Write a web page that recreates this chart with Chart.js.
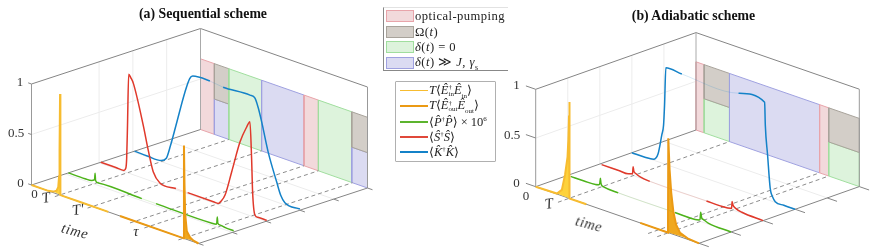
<!DOCTYPE html>
<html><head><meta charset="utf-8">
<script src="https://cdn.jsdelivr.net/npm/chart.js@4"></script>
<style>
html,body{margin:0;padding:0;background:#fff;width:872px;height:249px;overflow:hidden}
canvas{position:absolute;top:0}
.lb{position:absolute;transform:translate(-50%,-50%);font-family:"Liberation Serif",serif;color:#333;white-space:nowrap;line-height:1}
.title{font-weight:bold;font-size:13.8px;color:#111}
.tick{font-size:13px}
.it{font-style:italic;font-size:15px}
.tm{font-style:italic;font-size:14.5px;letter-spacing:.6px}
#wl{position:absolute;left:383px;top:7px;width:125px;height:64px;border-left:1px solid #888;border-bottom:1px solid #888;border-top:1px solid #e2e2e2;box-sizing:border-box}
.sw{position:absolute;left:386px;width:27.5px;height:12.5px;box-sizing:border-box;border-width:1px;border-style:solid}
.wt{position:absolute;left:415px;font:12.6px "Liberation Serif",serif;color:#222;transform:translateY(-50%);white-space:nowrap;letter-spacing:.45px}
#sl{position:absolute;left:395px;top:81px;width:101px;height:81px;border:1.2px solid #b0b0b0;border-radius:1px;box-sizing:border-box}
.ll{position:absolute;left:400px;width:28px}
.st{position:absolute;left:429px;font:12.5px "Liberation Serif","DejaVu Serif",serif;color:#222;transform:translateY(-50%);white-space:nowrap}
.ss{display:inline-flex;flex-direction:column;font-size:7px;line-height:6.5px;vertical-align:middle;font-style:normal}
</style></head><body>
<canvas id="ca" width="385" height="249" style="left:0;width:385px;height:249px"></canvas>
<canvas id="cb" width="372" height="249" style="left:500px;width:372px;height:249px"></canvas>
<div id="wl"></div>
<script>
// ---- values: time (fraction of axis), value ----
const wallEdgesA=[0,.083,.17,.366,.62,.706,.906,1];
const wallLowerA=['pump','det','zero','det','pump','zero','det'];
const wallUpperA=['pump','omega','zero','det','pump','zero','omega'];
const wallEdgesB=[0,.05,.205,.757,.813,1];
const wallLowerB=['pump','zero','det','pump','zero'];
const wallUpperB=['pump','omega','det','pump','omega'];
const wallHeight=.7, wallSplit=.35;
const dashTimesA=[.17,.366,.62,.706,.91];
const dashTimesB=[.205,.757,.813];
const depthsA=[0,.218,.41,.61];
const depthsB=[0,.2,.4,.6];
const depthTicks=[0,.2,.4,.6,.8,1];

const yellowTimeA=[0,.10,.13,.15,.16,.165,.168,.171,.173,.30,.46];
const yellowValA =[0,0,.01,.03,.07,.18,.45,1,0,0,0];
const orangeTimeA=[.53,.90,.911,.913,.916,.92,.93,.95,.97,1];
const orangeValA =[0,0,0,.92,.55,.25,.08,.03,.01,0];
const greenTimeA=[0,.10,.14,.155,.158,.16,.163,.18,.44,.525,.86,.885,.889,.892,.895,.91,.94,.99];
const greenValA =[0,0,.005,.02,.04,.09,.02,.005,0,0,0,.005,.02,.08,.02,.01,.003,0];
const redTimeA=[0,.09,.139,.15,.155,.16,.167,.18,.195,.254,.284,.314,.354,.45,.52,.674,.704,.72,.744,.784,.834,.874,.893,.903,.909,.923,.94,.994];
const redValA =[0,0,0,.03,.13,.46,.967,.94,.894,.515,.285,.088,0,0,0,0,0,.03,.106,.36,.686,.857,.918,.564,.235,.012,0,0];
const blueTimeA=[0,.08,.16,.19,.215,.248,.30,.33,.348,.451,.53,.691,.721,.74,.761,.80,.851,.875,.90,.99];
const blueValA =[0,-.005,0,.04,.18,.40,.75,.91,.945,.955,.94,.955,.943,.86,.73,.454,.187,.07,.01,0];

const yellowTimeB=[0,.13,.16,.18,.195,.2,.204,.206,.208,.31];
const yellowValB =[0,.005,.06,.23,.42,.6,.85,.99,0,0];
const orangeTimeB=[.64,.80,.81,.812,.82,.83,.843,.86,.884,.93,1];
const orangeValB =[0,0,0,.97,.65,.42,.233,.11,.04,.01,0];
const greenTimeB=[.018,.10,.17,.19,.196,.2,.203,.207,.22,.309,.656,.78,.805,.81,.814,.82,.83,.86,1];
const greenValB =[0,0,.005,.015,.03,.086,.04,.02,.01,0,0,0,.01,.02,.095,.04,.03,.01,0];
const redTimeB=[.011,.12,.173,.19,.2,.204,.208,.22,.25,.306,.653,.75,.80,.807,.81,.816,.83,.87,1];
const redValB =[0,0,0,.01,.015,.09,.05,.03,.01,0,0,0,.01,.015,.085,.05,.03,.01,0];
const blueTimeB=[0,.08,.132,.16,.183,.194,.2,.208,.306,.653,.813,.817,.831,.847,.862,.878,.93,1];
const blueValB =[0,0,.01,.08,.287,.397,.6,.994,.985,.99,.99,.76,.459,.127,.045,.007,0,0];

const wallLabels=['optical-pumping','Ω(<i>t</i>)','<i>δ</i>(<i>t</i>) = 0','<i>δ</i>(<i>t</i>) ≫ <i>J</i>, <i>γ</i><sub style="font-size:8px">s</sub>'];
const E='<i>E&#770;</i>',P='<i>P&#770;</i>',S='<i>S&#770;</i>',K='<i>K&#770;</i>';
const seriesLabels=[
 `<i>T</i>⟨${E}<span class="ss"><span>†</span><span>in</span></span>${E}<sub style="font-size:7px">in</sub>⟩`,
 `<i>T</i>⟨${E}<span class="ss"><span>†</span><span>out</span></span>${E}<sub style="font-size:7px">out</sub>⟩`,
 `⟨${P}<sup style="font-size:7px">†</sup>${P}⟩ × 10<sup style="font-size:7px">6</sup>`,
 `⟨${S}<sup style="font-size:7px">†</sup>${S}⟩`,
 `⟨${K}<sup style="font-size:7px">†</sup>${K}⟩`];

// ---- styles ----
const wallFill={pump:'#F2D9DB',omega:'#D3CEC8',zero:'#DDF3DC',det:'#DBDBF2'};
const wallLine={pump:'#E8A4AA',omega:'#A8A39B',zero:'#A0DE9E',det:'#9FA1E0'};
const C={yellow:'#F7BC30',yellowFill:'#FDD23C',orange:'#EB9A14',orangeFill:'#F0A81E',green:'#4DB31A',red:'#E0392B',blue:'#1482C8'};
const legendColors=[[C.yellow,1.4],[C.orange,1.4],['#5CB42E',2],['#E0483A',2],[C.blue,1.4]];
const AX='#858585',PALE='#ececec';

function panel(o,u,v,z,tickT,tickD,tickZ,b0,b1,dep,edges,lower,upper,dashes,yT,yV,oT,oV,gT,gV,rT,rV,bT,bV,yFrom,oTo,grid,cv,left,width){
  const P=(t,d,h)=>({x:o[0]+t*u[0]+d*v[0],y:o[1]+t*u[1]+d*v[1]+h*z});
  const ds=[];
  const add=(pts,s)=>ds.push(Object.assign({data:pts,showLine:true,pointRadius:0,borderWidth:1,tension:0,fill:false,parsing:false,normalized:true},s));
  const seg=(a,b,col,w,dash)=>add([a,b],{borderColor:col,borderWidth:w||1,borderDash:dash||[]});
  // pale grid
  seg(P(0,0,.5),P(0,1,.5),PALE);
  grid.forEach(d=>seg(P(0,d,0),P(0,d,1),PALE));
  depthTicks.slice(1,-1).forEach(d=>seg(P(0,d,0),P(1,d,0),PALE));
  // wall
  const rect=(t0,t1,a,b,k)=>add([P(t0,1,a),P(t1,1,a),P(t1,1,b),P(t0,1,b),P(t0,1,a)],{fill:'shape',backgroundColor:wallFill[k],borderColor:wallLine[k],borderWidth:1});
  lower.forEach((k,i)=>{
    if(upper[i]===k){rect(edges[i],edges[i+1],0,wallHeight,k);}
    else{rect(edges[i],edges[i+1],0,wallSplit,k);rect(edges[i],edges[i+1],wallSplit,wallHeight,upper[i]);}
  });
  // box frame
  seg(P(0,0,1),P(0,1,1),AX);seg(P(0,1,1),P(1,1,1),AX);
  seg(P(0,0,0),P(0,0,1),'#999');seg(P(0,1,0),P(0,1,1),'#aaa');seg(P(1,1,0),P(1,1,1),'#999');
  // dashes
  dashes.forEach(t=>seg(P(t,-tickD,0),P(t,1,0),'#8c8c8c',1,[4,3]));
  // axes and ticks
  seg(P(0,0,0),P(1,0,0),AX);seg(P(1,0,0),P(1,1,0),AX);seg(P(0,0,0),P(0,1,0),AX);
  [0,.5,1].forEach(h=>seg(P(-tickZ,0,h),P(0,0,h),AX));
  depthTicks.forEach(d=>seg(P(1,d,0),P(1+tickT,d,0),AX));
  // series
  const curve=(T,V,d,col,w,br)=>add(T.map((t,i)=>P(t,d,V[i])),{borderColor:col,borderWidth:w,cubicInterpolationMode:br?'monotone':'default',
     segment:br?{borderColor:c=>(T[c.p0DataIndex]>=b0&&T[c.p1DataIndex]<=b1)?col+'38':undefined,
                 borderWidth:c=>(T[c.p0DataIndex]>=b0&&T[c.p1DataIndex]<=b1)?.8:undefined}:undefined});
  const pulse=(T,V,from,to,fillc)=>{const p=[];T.forEach((t,i)=>{if(t>=from&&t<=to)p.push(P(t,0,V[i]));});p.push(p[0]);
     add(p,{fill:'shape',backgroundColor:fillc,borderWidth:0,borderColor:'transparent'});};
  pulse(yT,yV,yFrom,yT[8]||1,C.yellowFill);
  pulse(oT,oV,oT[2],oTo,C.orangeFill);
  curve(bT,bV,dep[3],C.blue,1.5,true);
  curve(rT,rV,dep[2],C.red,1.5,true);
  curve(gT,gV,dep[1],C.green,1.5,true);
  curve(yT,yV,dep[0],C.yellow,2);
  curve(oT,oV,dep[0],C.orange,2);
  ds.forEach((d,i)=>d.order=ds.length-i);
  new Chart(document.getElementById(cv),{type:'scatter',data:{datasets:ds},options:{
    responsive:false,animation:false,devicePixelRatio:1,events:[],
    layout:{padding:0},
    plugins:{legend:{display:false},tooltip:{enabled:false},title:{display:false}},
    elements:{line:{capBezierPoints:false,borderCapStyle:'butt',borderJoinStyle:'miter'}},
    scales:{x:{type:'linear',display:false,min:left,max:left+width},y:{type:'linear',display:false,min:0,max:249,reverse:true}}
  }});
}
panel([31.5,185],[167,58.5],[169,-55.5],-101,.03,.03,.02,.44,.53,depthsA,wallEdgesA,wallLowerA,wallUpperA,dashTimesA,
  yellowTimeA,yellowValA,orangeTimeA,orangeValA,greenTimeA,greenValA,redTimeA,redValA,blueTimeA,blueValA,.13,.97,[.4,.6,.8],'ca',0,385);
panel([535.7,186.7],[163.3,56.6],[160.3,-56.7],-97.4,.06,.07,.06,.3,.66,depthsB,wallEdgesB,wallLowerB,wallUpperB,dashTimesB,
  yellowTimeB,yellowValB,orangeTimeB,orangeValB,greenTimeB,greenValB,redTimeB,redValB,blueTimeB,blueValB,.13,.93,[.2,.4,.6,.8],'cb',500,372);

// ---- text ----
function label(html,x,y,cls,rot){const e=document.createElement('div');e.className='lb '+cls;e.innerHTML=html;e.style.left=x+'px';e.style.top=y+'px';
  if(rot)e.style.transform=`translate(-50%,-50%) rotate(${rot}deg)`;document.body.appendChild(e);}
label('(a) Sequential scheme',203,14,'title');
label('(b) Adiabatic scheme',693.5,16,'title');
[['1',20,81],['0.5',16,132],['0',20.5,182],['0',34.5,193],['1',516.5,83.5],['0.5',512,134],['0',516.5,182],['0',526,195]].forEach(a=>label(a[0],a[1],a[2],'tick'));
label('T',45.5,198,'it',-8);label("T′",78,210,'it',-8);label('τ',136,231,'it');label('time',75,231,'tm',15);
label('T',548.5,204,'it',-8);label('time',589,224,'tm',15);
const wy=[16,31.7,47,62.8],ly=[90.7,106,122,136.7,152];
wallLabels.forEach((t,i)=>{const k=['pump','omega','zero','det'][i];
  const s=document.createElement('div');s.className='sw';s.style.top=(wy[i]-6.2)+'px';s.style.background=wallFill[k];s.style.borderColor=wallLine[k];document.body.appendChild(s);
  const e=document.createElement('div');e.className='wt';e.style.top=wy[i]+'px';e.innerHTML=t;document.body.appendChild(e);});
const f=document.createElement('div');f.id='sl';document.body.appendChild(f);
seriesLabels.forEach((t,i)=>{
  const s=document.createElement('div');s.className='ll';s.style.top=(ly[i]-legendColors[i][1]/2)+'px';s.style.height=legendColors[i][1]+'px';s.style.background=legendColors[i][0];document.body.appendChild(s);
  const e=document.createElement('div');e.className='st';e.style.top=ly[i]+'px';e.innerHTML=t;document.body.appendChild(e);});
</script>
</body></html>
